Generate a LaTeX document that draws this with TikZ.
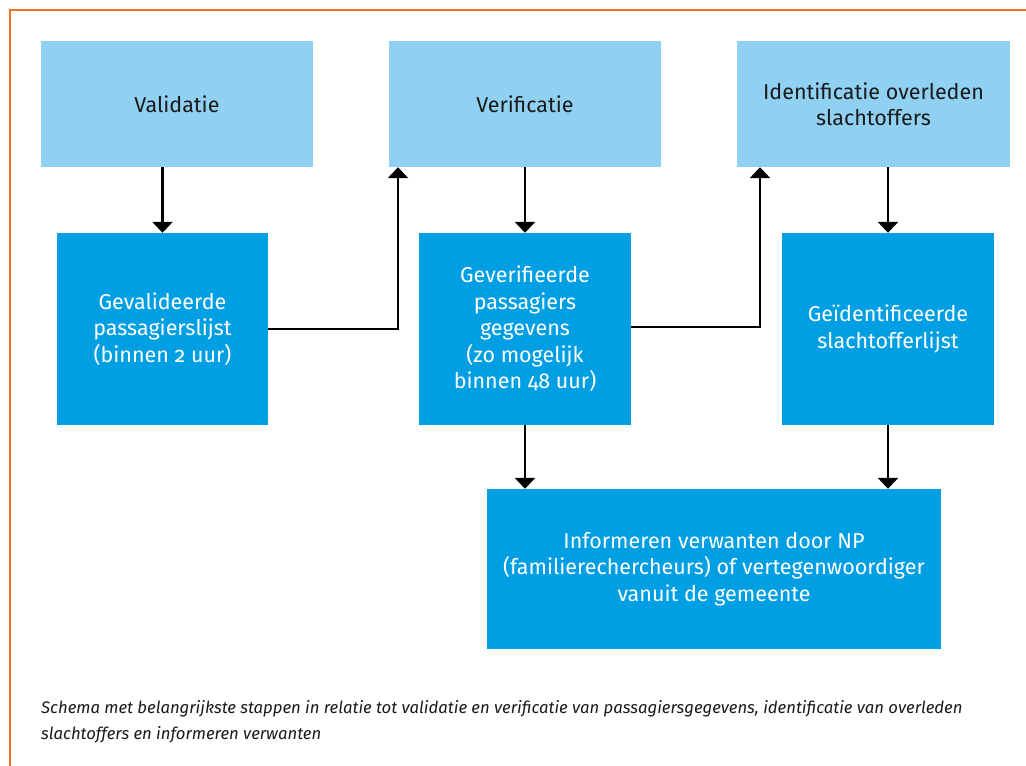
\documentclass[tikz,border=0pt]{standalone}
\usepackage{fontspec}
\setmainfont{Fira Sans}[Numbers=OldStyle]
\usetikzlibrary{arrows.meta}
\definecolor{lightbox}{HTML}{90D1F3}
\definecolor{darkbox}{HTML}{009FE3}
\definecolor{frameorange}{HTML}{F36F21}
\definecolor{txtdark}{HTML}{1A1A1A}
\tikzset{
  x=1pt, y=-1pt,
  lightnode/.style={fill=lightbox, draw=none, inner sep=0pt, text=txtdark,
    align=center, font=\fontsize{21.5}{26.5}\selectfont},
  darknode/.style={fill=darkbox, draw=none, inner sep=0pt, text=white,
    align=center, font=\fontsize{21.5}{26.5}\selectfont},
  conn/.style={line width=2.8pt, draw=black, -{Triangle[width=20pt,length=11pt]}},
}
\begin{document}
\begin{tikzpicture}
\useasboundingbox (0,0) rectangle (1026,766);
\fill[white] (0,0) rectangle (1026,766);
\draw[frameorange, line width=2pt] (10,766) -- (10,10) -- (1026,10);

\node[lightnode, minimum width=272pt, minimum height=126pt] (val) at (177,104) {Validatie};
\node[lightnode, minimum width=272pt, minimum height=126pt] (ver) at (525,104) {Verificatie};
\node[lightnode, minimum width=273pt, minimum height=126pt] (idf) at (873.5,104) {Identificatie overleden\\slachtoffers};

\node[darknode, minimum width=211pt, minimum height=192pt] (gval) at (162.5,329) {Gevalideerde\\passagierslijst\\(binnen 2 uur)};
\node[darknode, minimum width=212pt, minimum height=192pt] (gver) at (525,329) {Geverifieerde\\passagiers\\gegevens\\(zo mogelijk\\binnen 48 uur)};
\node[darknode, minimum width=212pt, minimum height=192pt] (gidf) at (888,329) {Geïdentificeerde\\slachtofferlijst};

\node[darknode, minimum width=454pt, minimum height=160pt] (inf) at (714,569) {Informeren verwanten door NP\\(familierechercheurs) of vertegenwoordiger\\vanuit de gemeente};

\coordinate (c1) at (398,329);
\coordinate (c2) at (760,327);

\draw[conn] (val.south -| gval.north) -- (gval.north);
\draw[conn] (gval.east |- c1) -- (c1) -- (c1 |- ver.south);
\draw[conn] (ver.south) -- (gver.north);
\draw[conn] (gver.east |- c2) -- (c2) -- (c2 |- idf.south);
\draw[conn] (idf.south -| gidf.north) -- (gidf.north);
\draw[conn] (gver.south) -- (gver.south |- inf.north);
\draw[conn] (gidf.south) -- (gidf.south |- inf.north);

\node[anchor=north west, align=left, inner sep=0pt, text=txtdark,
  font=\fontsize{16.7}{26}\selectfont\itshape] (cap) at (41,700)
  {Schema met belangrijkste stappen in relatie tot validatie en verificatie van passagiersgegevens, identificatie van overleden\\slachtoffers en informeren verwanten};
\end{tikzpicture}
\end{document}
